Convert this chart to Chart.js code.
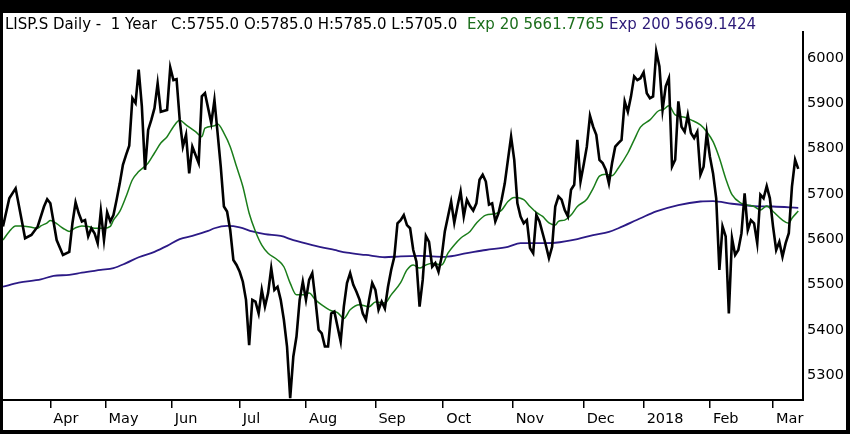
<!DOCTYPE html>
<html>
<head>
<meta charset="utf-8">
<title>LISP.S Daily - 1 Year</title>
<script src="https://cdn.jsdelivr.net/npm/chart.js@4.4.1/dist/chart.umd.min.js"></script>
<style>
  html, body { margin: 0; padding: 0; background: #000; }
  #chart { display: block; }
</style>
</head>
<body>
<canvas id="chart" width="850" height="434"></canvas>
<script>
// trading-day index (0 = mid March 2017) and close price
const closeDays = [0, 2, 4, 6, 7, 9, 11, 13, 14, 15, 16, 17, 19, 21, 22, 23, 24, 25, 26, 27,
  28, 29, 30, 31, 32, 33, 34, 35, 36, 37, 38, 39, 40, 41, 42, 43, 44, 45, 46, 47,
  48, 49, 50, 52, 53, 54, 55, 56, 57, 58, 59, 60, 62, 63, 64, 66, 67, 68, 69, 70,
  71, 72, 73, 74, 75, 76, 77, 78, 79, 80, 81, 82, 83, 84, 85, 86, 87, 88, 89, 90,
  91, 92, 93, 94, 95, 96, 97, 98, 99, 100, 101, 102, 103, 104, 105, 106, 107, 108, 109, 110,
  111, 112, 113, 114, 115, 116, 117, 118, 119, 120, 121, 122, 123, 124, 125, 126, 127, 128, 129, 130,
  131, 132, 133, 134, 135, 136, 137, 138, 139, 140, 141, 142, 143, 144, 145, 146, 147, 148, 149, 150,
  151, 152, 153, 154, 155, 156, 157, 158, 159, 160, 161, 162, 163, 164, 165, 166, 167, 168, 169, 170,
  171, 172, 173, 174, 175, 176, 177, 178, 179, 180, 181, 182, 183, 184, 185, 186, 187, 188, 189, 190,
  191, 192, 193, 194, 195, 196, 197, 198, 199, 200, 201, 202, 203, 204, 205, 206, 207, 208, 209, 210,
  211, 212, 213, 214, 215, 216, 217, 218, 219, 220, 221, 222, 223, 224, 225, 226, 227, 228, 229, 230,
  231, 232, 233, 234, 235, 236, 237, 238, 239, 240, 241, 242, 243, 244, 245, 246, 247, 248, 249, 250,
  251, 252];
const closeValues = [5628, 5690, 5712, 5639, 5602, 5609, 5628, 5672, 5688, 5679, 5639, 5598, 5565, 5572, 5635, 5681, 5657, 5639, 5642, 5606,
  5624, 5613, 5591, 5662, 5598, 5659, 5639, 5653, 5687, 5723, 5764, 5786, 5806, 5911, 5900, 5974, 5893, 5753, 5841, 5863,
  5889, 5944, 5881, 5885, 5979, 5951, 5953, 5863, 5804, 5830, 5745, 5804, 5768, 5915, 5922, 5856, 5907, 5834, 5760, 5672,
  5661, 5620, 5554, 5543, 5528, 5506, 5466, 5366, 5466, 5462, 5436, 5488, 5451, 5481, 5536, 5488, 5495, 5466, 5422, 5363,
  5249, 5341, 5385, 5466, 5506, 5466, 5510, 5525, 5466, 5400, 5392, 5363, 5363, 5436, 5440, 5407, 5374, 5451, 5503, 5525,
  5499, 5484, 5466, 5436, 5422, 5466, 5503, 5488, 5444, 5462, 5447, 5495, 5532, 5561, 5635, 5642, 5653, 5631, 5624, 5576,
  5550, 5451, 5510, 5607, 5594, 5539, 5547, 5528, 5561, 5617, 5650, 5683, 5636, 5672, 5705, 5650, 5687, 5673, 5663, 5679,
  5731, 5742, 5727, 5676, 5679, 5639, 5657, 5687, 5723, 5775, 5826, 5775, 5679, 5650, 5635, 5642, 5580, 5569, 5653, 5639,
  5613, 5587, 5558, 5583, 5672, 5694, 5687, 5664, 5650, 5709, 5720, 5819, 5727, 5764, 5804, 5872, 5848, 5830, 5775, 5768,
  5753, 5723, 5768, 5804, 5812, 5819, 5904, 5881, 5915, 5959, 5951, 5955, 5968, 5922, 5911, 5915, 6014, 5981, 5885, 5937,
  5955, 5760, 5775, 5904, 5848, 5837, 5874, 5834, 5823, 5837, 5742, 5760, 5834, 5782, 5745, 5690, 5532, 5628, 5606, 5436,
  5602, 5565, 5576, 5613, 5701, 5620, 5642, 5635, 5591, 5698, 5690, 5717, 5690, 5628, 5576, 5594, 5561, 5591, 5613, 5716,
  5775, 5755];

const ema20Days = [0, 2, 4, 6, 9, 11, 12, 14, 15, 17, 19, 21, 23, 25, 27, 29, 32, 34, 35, 37,
  39, 41, 43, 46, 48, 50, 52, 54, 56, 58, 61, 63, 64, 67, 68, 70, 72, 74, 76, 78,
  80, 82, 84, 87, 89, 91, 93, 95, 97, 99, 101, 104, 106, 108, 110, 113, 116, 118, 121, 123,
  126, 128, 130, 132, 134, 136, 139, 141, 143, 145, 148, 150, 153, 156, 158, 160, 162, 165, 167, 169,
  171, 173, 175, 176, 178, 180, 182, 185, 187, 189, 191, 193, 195, 198, 200, 202, 205, 208, 209, 211,
  213, 216, 218, 221, 223, 225, 227, 229, 231, 234, 236, 238, 240, 242, 244, 247, 249, 250, 252];
const ema20Values = [5598, 5617, 5629, 5629, 5626, 5624, 5629, 5636, 5641, 5634, 5624, 5617, 5625, 5629, 5628, 5624, 5624, 5628, 5642, 5661,
  5694, 5731, 5749, 5768, 5790, 5812, 5826, 5848, 5862, 5852, 5837, 5826, 5845, 5850, 5854, 5834, 5804, 5760, 5716, 5657,
  5617, 5587, 5569, 5554, 5539, 5503, 5477, 5477, 5481, 5466, 5455, 5442, 5438, 5425, 5444, 5455, 5451, 5461, 5459, 5477,
  5504, 5532, 5543, 5536, 5543, 5547, 5543, 5569, 5587, 5602, 5617, 5635, 5653, 5656, 5664, 5683, 5692, 5687, 5672, 5659,
  5650, 5636, 5631, 5639, 5642, 5653, 5672, 5688, 5712, 5739, 5743, 5740, 5757, 5790, 5819, 5847, 5863, 5884, 5885, 5894,
  5874, 5869, 5863, 5852, 5837, 5815, 5779, 5734, 5698, 5679, 5675, 5672, 5664, 5673, 5661, 5642, 5635, 5646, 5661.8];

const ema200Days = [0, 5, 12, 16, 21, 25, 31, 35, 39, 43, 48, 52, 56, 60, 65, 67, 71, 75, 79, 83,
  88, 92, 98, 105, 109, 115, 121, 126, 132, 140, 147, 153, 160, 164, 170, 175, 182, 187, 192, 195,
  202, 207, 214, 221, 225, 231, 238, 244, 252];
const ema200Values = [5495, 5504, 5511, 5519, 5521, 5526, 5532, 5536, 5547, 5560, 5572, 5585, 5600, 5607, 5618, 5624, 5629, 5626, 5617, 5611,
  5607, 5598, 5587, 5576, 5570, 5565, 5560, 5562, 5563, 5561, 5569, 5576, 5583, 5591, 5591, 5592, 5600, 5609, 5616, 5624,
  5646, 5661, 5675, 5683, 5684, 5678, 5673, 5672, 5669.1];

// month boundaries on the trading-day axis
const monthTicks = [15, 32.5, 53.5, 75, 96, 118, 139.5, 161.5, 184, 203, 224, 244];
const monthLabels = ['Apr', 'May', 'Jun', 'Jul', 'Aug', 'Sep', 'Oct', 'Nov', 'Dec', '2018', 'Feb', 'Mar'];
const priceTicks = [5300, 5400, 5500, 5600, 5700, 5800, 5900, 6000];

const headerParts = [
  { text: 'LISP.S Daily -  1 Year   C:5755.0 O:5785.0 H:5785.0 L:5705.0', color: '#000000', x: 5 },
  { text: 'Exp 20 5661.7765', color: '#1c6e1c', x: 467 },
  { text: 'Exp 200 5669.1424', color: '#2c1a78', x: 609 }
];

const FONT = 'DejaVu Sans, Verdana, sans-serif';

function toPoints(days, values) {
  return days.map((d, i) => ({ x: d, y: values[i] }));
}

const framePlugin = {
  id: 'frame',
  beforeDraw(chart) {
    const ctx = chart.ctx;
    ctx.save();
    ctx.fillStyle = '#000';
    ctx.fillRect(0, 0, chart.width, chart.height);
    ctx.fillStyle = '#fff';
    ctx.fillRect(3, 13, 843, 417);
    ctx.restore();
  },
  afterDraw(chart) {
    const ctx = chart.ctx;
    ctx.save();
    ctx.font = '15px ' + FONT;
    ctx.textBaseline = 'alphabetic';
    ctx.textAlign = 'left';
    headerParts.forEach(p => {
      ctx.fillStyle = p.color;
      ctx.fillText(p.text, p.x, 29);
    });
    ctx.restore();
  }
};

new Chart(document.getElementById('chart'), {
  type: 'line',
  data: {
    datasets: [
      {
        label: 'Close',
        data: toPoints(closeDays, closeValues),
        borderColor: '#000',
        borderWidth: 2.6,
        pointRadius: 0,
        tension: 0
      },
      {
        label: 'Exp 20',
        data: toPoints(ema20Days, ema20Values),
        borderColor: '#1a7d1a',
        borderWidth: 1.5,
        pointRadius: 0,
        cubicInterpolationMode: 'monotone'
      },
      {
        label: 'Exp 200',
        data: toPoints(ema200Days, ema200Values),
        borderColor: '#2c1a86',
        borderWidth: 1.8,
        pointRadius: 0,
        cubicInterpolationMode: 'monotone'
      }
    ]
  },
  options: {
    responsive: false,
    animation: false,
    events: [],
    layout: { padding: { left: 3, top: 32, right: 0, bottom: 0 } },
    plugins: { legend: { display: false }, tooltip: { enabled: false } },
    scales: {
      x: {
        type: 'linear',
        min: 0,
        max: 253.5,
        afterBuildTicks(scale) {
          scale.ticks = monthTicks.map(v => ({ value: v }));
        },
        afterFit(scale) { scale.height = 34; },
        border: { display: true, color: '#000', width: 2 },
        grid: { drawOnChartArea: false, drawTicks: true, tickLength: 8, color: '#000', lineWidth: 1.5 },
        ticks: {
          autoSkip: false,
          maxRotation: 0,
          align: 'start',
          labelOffset: 3,
          padding: 3,
          color: '#000',
          font: { family: FONT, size: 14.5 },
          callback: (value, index) => monthLabels[index]
        }
      },
      y: {
        type: 'linear',
        position: 'right',
        min: 5245,
        max: 6057,
        afterBuildTicks(scale) {
          scale.ticks = priceTicks.map(v => ({ value: v }));
        },
        afterFit(scale) { scale.width = 47; },
        border: { display: true, color: '#000', width: 2 },
        grid: { drawOnChartArea: false, drawTicks: false },
        ticks: {
          padding: 4,
          color: '#000',
          font: { family: FONT, size: 14.5 },
          callback: value => String(value)
        }
      }
    }
  },
  plugins: [framePlugin]
});
</script>
</body>
</html>
